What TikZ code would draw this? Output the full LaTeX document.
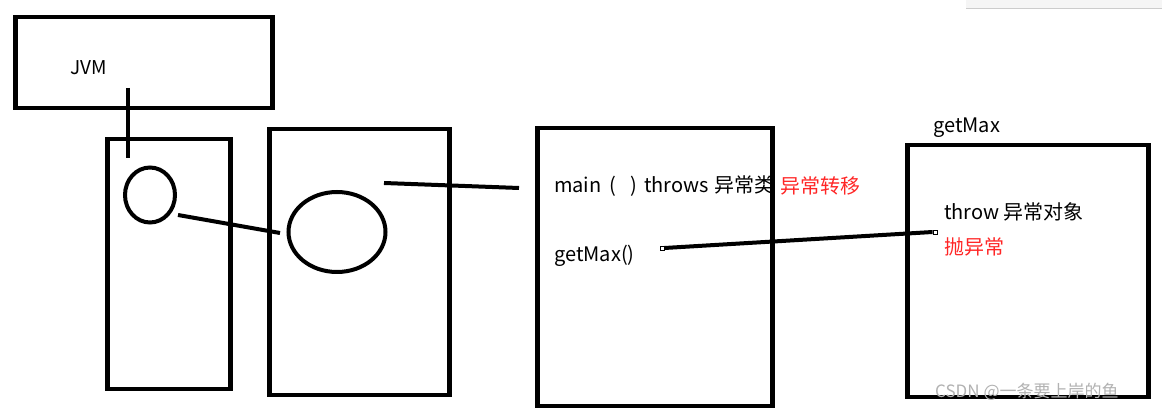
\documentclass[tikz,border=0pt]{standalone}
\usepackage{fontspec}
\usetikzlibrary{shapes.geometric}
\setmainfont{Noto Sans CJK SC}
\begin{document}
\begin{tikzpicture}[x=1pt,y=-1pt,
  box/.style={draw=black,line width=4.5pt,inner sep=0pt,anchor=north west},
  conn/.style={draw=black,line width=4pt},
  lbl/.style={anchor=west,inner sep=0pt,font=\fontsize{20}{22}\selectfont},
  red/.style={text=red!85!white},
  endsq/.style={draw=black,fill=white,line width=0.8pt,minimum size=4pt,inner sep=0pt}]
\useasboundingbox[fill=white] (0,0) rectangle (1162,411);
\fill[gray!8] (966,0) rectangle (1162,8);
\draw[gray!40] (966,8) -- (1162,8);
% boxes
\node[box,minimum width=257pt,minimum height=91pt] (jvm) at (13,15) {};
\node[box,minimum width=123pt,minimum height=250pt] (stack1) at (105,137) {};
\node[box,minimum width=180pt,minimum height=266pt] (stack2) at (267,127) {};
\node[box,minimum width=235pt,minimum height=278pt] (mainbox) at (535,126) {};
\node[box,minimum width=241pt,minimum height=252pt] (getbox) at (905,143) {};
% ellipses
\node[draw=black,line width=4pt,ellipse,minimum width=50pt,minimum height=55pt,inner sep=0pt] (c1) at (150,195) {};
\node[draw=black,line width=4pt,ellipse,minimum width=97pt,minimum height=80pt,inner sep=0pt] (c2) at (337,232) {};
% texts
\node[lbl,font=\fontsize{19}{21}\selectfont] (jvmt) at (70,68) {JVM};
\node[lbl] (maint) at (554,186) {main\hspace{0.4em}(\hspace{0.7em})\hspace{0.35em}throws\hspace{0.3em}异常类};
\node[lbl,red] (trans) at (780,186) {异常转移};
\node[lbl] (getm) at (554,256) {getMax()};
\node[lbl] (gtitle) at (933,128) {getMax};
\node[lbl] (throwt) at (944,212) {throw 异常对象};
\node[lbl,red] (paot) at (944,247) {抛异常};
\node[lbl,text=gray!60,font=\fontsize{17}{19}\selectfont] (wm) at (935,392) {CSDN @一条要上岸的鱼};
% connector end points
\coordinate (a1) at (128,88);
\coordinate (a2) at (128,158);
\coordinate (b1) at (178,215);
\coordinate (b2) at (280,233);
\coordinate (d1) at (384,183);
\coordinate (d2) at (519,188);
\node[endsq] (e1) at (662,248) {};
\node[endsq] (e2) at (935,232) {};
\draw[conn] (a1) -- (a2);
\draw[conn] (b1) -- (b2);
\draw[conn] (d1) -- (d2);
\draw[conn] (e1.east) -- (e2.west);
\end{tikzpicture}
\end{document}
